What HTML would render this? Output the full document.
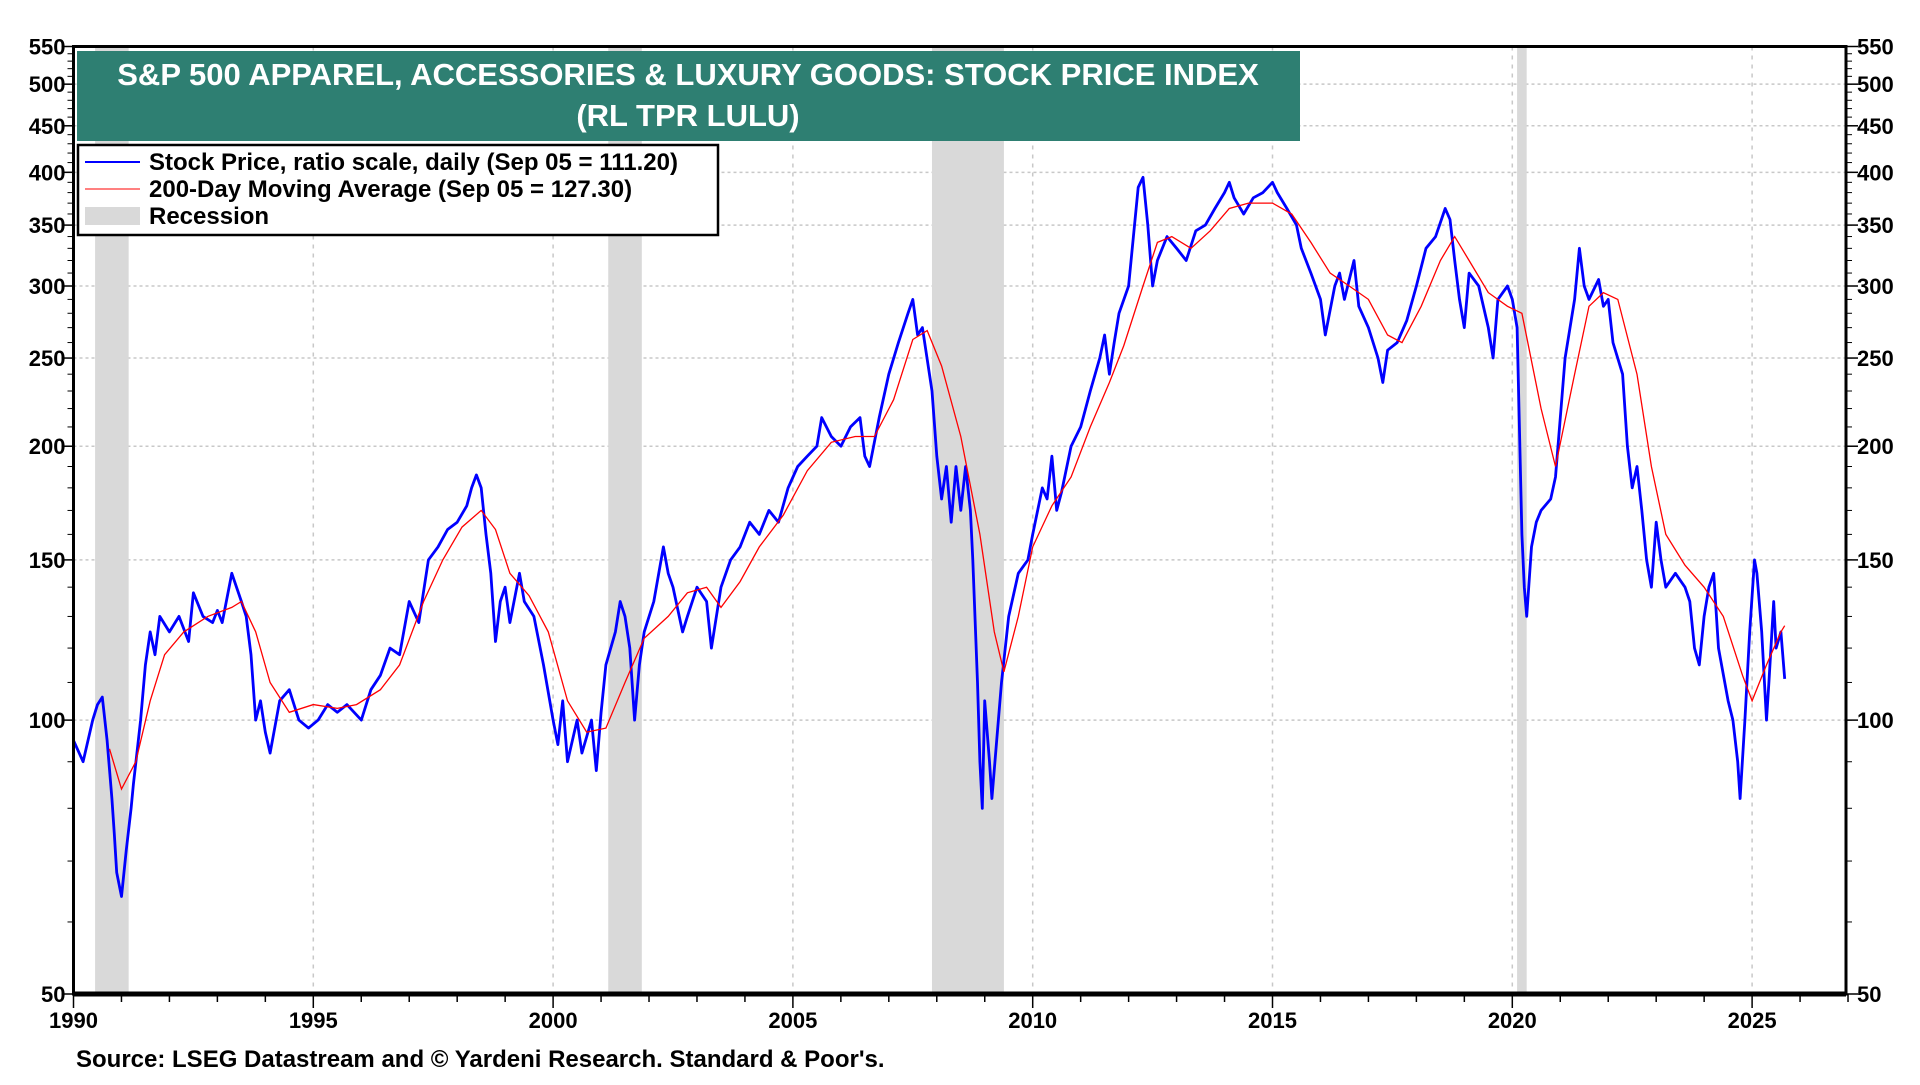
<!DOCTYPE html>
<html><head><meta charset="utf-8"><style>
body{margin:0;background:#fff;width:1920px;height:1080px;overflow:hidden;font-family:"Liberation Sans",sans-serif}
svg text{font-family:"Liberation Sans",sans-serif;font-weight:bold}
</style></head><body>
<svg id="chart" width="1920" height="1080" xmlns="http://www.w3.org/2000/svg">
<g id="grid"></g>
<g id="rec"></g>
<g id="series"></g>
<g id="axes"></g>
<rect x="77" y="51" width="1223" height="90" fill="#2e7f72"/>
<text x="688" y="85" fill="#fff" font-size="31" text-anchor="middle">S&amp;P 500 APPAREL, ACCESSORIES &amp; LUXURY GOODS: STOCK PRICE INDEX</text>
<text x="688" y="126" fill="#fff" font-size="31" text-anchor="middle">(RL TPR LULU)</text>
<g>
<rect x="78" y="145" width="640" height="90" fill="#fff" stroke="#000" stroke-width="2.5"/>
<line x1="85" y1="162" x2="140" y2="162" stroke="#0000ff" stroke-width="2"/>
<text x="149" y="170" font-size="24">Stock Price, ratio scale, daily (Sep 05 = 111.20)</text>
<line x1="85" y1="189" x2="140" y2="189" stroke="#ff0000" stroke-width="1"/>
<text x="149" y="197" font-size="24">200-Day Moving Average (Sep 05 = 127.30)</text>
<rect x="85" y="207" width="55" height="18" fill="#d9d9d9"/>
<text x="149" y="224" font-size="24">Recession</text>
</g>
<text x="76" y="1067" font-size="24">Source: LSEG Datastream and © Yardeni Research. Standard &amp; Poor's.</text>
</svg>
<script>
const stockYears=[1990.0,1990.2,1990.4,1990.5,1990.6,1990.7,1990.8,1990.85,1990.9,1991.0,1991.1,1991.2,1991.25,1991.4,1991.5,1991.6,1991.7,1991.8,1992.0,1992.2,1992.4,1992.5,1992.7,1992.9,1993.0,1993.1,1993.3,1993.5,1993.6,1993.7,1993.8,1993.9,1994.0,1994.1,1994.3,1994.5,1994.7,1994.9,1995.1,1995.3,1995.5,1995.7,1996.0,1996.2,1996.4,1996.6,1996.8,1997.0,1997.2,1997.4,1997.6,1997.8,1998.0,1998.2,1998.3,1998.4,1998.5,1998.6,1998.7,1998.8,1998.9,1999.0,1999.1,1999.3,1999.4,1999.6,1999.8,2000.0,2000.1,2000.2,2000.3,2000.5,2000.6,2000.8,2000.9,2001.0,2001.1,2001.3,2001.4,2001.5,2001.6,2001.7,2001.8,2001.9,2002.1,2002.3,2002.4,2002.5,2002.7,2002.8,2003.0,2003.2,2003.3,2003.5,2003.7,2003.9,2004.1,2004.3,2004.5,2004.7,2004.9,2005.1,2005.3,2005.5,2005.6,2005.8,2006.0,2006.2,2006.4,2006.5,2006.6,2006.8,2007.0,2007.2,2007.4,2007.5,2007.6,2007.7,2007.9,2008.0,2008.1,2008.2,2008.3,2008.4,2008.5,2008.6,2008.7,2008.75,2008.85,2008.9,2008.95,2009.0,2009.1,2009.15,2009.25,2009.35,2009.5,2009.7,2009.9,2010.0,2010.2,2010.3,2010.4,2010.5,2010.6,2010.8,2011.0,2011.2,2011.4,2011.5,2011.6,2011.7,2011.8,2012.0,2012.1,2012.2,2012.3,2012.4,2012.5,2012.6,2012.8,2013.0,2013.2,2013.4,2013.6,2013.8,2014.0,2014.1,2014.2,2014.4,2014.6,2014.8,2015.0,2015.1,2015.3,2015.5,2015.6,2015.8,2016.0,2016.1,2016.3,2016.4,2016.5,2016.7,2016.8,2017.0,2017.2,2017.3,2017.4,2017.6,2017.8,2018.0,2018.2,2018.4,2018.6,2018.7,2018.8,2018.9,2019.0,2019.1,2019.3,2019.5,2019.6,2019.7,2019.9,2020.0,2020.1,2020.2,2020.25,2020.3,2020.4,2020.5,2020.6,2020.8,2020.9,2021.0,2021.1,2021.3,2021.4,2021.5,2021.6,2021.8,2021.9,2022.0,2022.1,2022.3,2022.4,2022.5,2022.6,2022.7,2022.8,2022.9,2023.0,2023.1,2023.2,2023.4,2023.6,2023.7,2023.8,2023.9,2024.0,2024.1,2024.2,2024.3,2024.5,2024.6,2024.7,2024.75,2024.85,2024.95,2025.05,2025.1,2025.2,2025.3,2025.35,2025.45,2025.5,2025.6,2025.68];
const stockValues=[95,90,100,104,106,95,82,75,68,64,72,80,85,100,115,125,118,130,125,130,122,138,130,128,132,128,145,135,130,118,100,105,97,92,105,108,100,98,100,104,102,104,100,108,112,120,118,135,128,150,155,162,165,172,180,186,180,160,145,122,135,140,128,145,135,130,115,100,94,105,90,100,92,100,88,102,115,125,135,130,120,100,115,125,135,155,145,140,125,130,140,135,120,140,150,155,165,160,170,165,180,190,195,200,215,205,200,210,215,195,190,215,240,260,280,290,265,270,230,195,175,190,165,190,170,190,170,150,110,90,80,105,90,82,95,110,130,145,150,160,180,175,195,170,178,200,210,230,250,265,240,260,280,300,340,385,395,350,300,320,340,330,320,345,350,365,380,390,375,360,375,380,390,380,365,350,330,310,290,265,300,310,290,320,285,270,250,235,255,260,275,300,330,340,365,355,320,290,270,310,300,270,250,290,300,290,270,160,140,130,155,165,170,175,185,215,250,290,330,300,290,305,285,290,260,240,200,180,190,170,150,140,165,150,140,145,140,135,120,115,130,140,145,120,105,100,90,82,100,125,150,145,125,100,110,135,120,125,111];
const maYears=[1990.75,1991.0,1991.3,1991.6,1991.9,1992.3,1992.8,1993.3,1993.5,1993.8,1994.1,1994.5,1995.0,1995.5,1995.9,1996.4,1996.8,1997.3,1997.7,1998.1,1998.5,1998.8,1999.1,1999.5,1999.9,2000.3,2000.7,2001.1,2001.5,2001.9,2002.4,2002.8,2003.2,2003.5,2003.9,2004.3,2004.8,2005.3,2005.8,2006.3,2006.7,2007.1,2007.5,2007.8,2008.1,2008.5,2008.9,2009.2,2009.4,2009.7,2010.0,2010.4,2010.8,2011.2,2011.6,2011.9,2012.3,2012.6,2012.9,2013.3,2013.7,2014.1,2014.5,2015.0,2015.4,2015.8,2016.2,2016.6,2017.0,2017.4,2017.7,2018.1,2018.5,2018.8,2019.1,2019.5,2019.9,2020.2,2020.6,2020.9,2021.3,2021.6,2021.9,2022.2,2022.6,2022.9,2023.2,2023.6,2024.0,2024.4,2024.8,2025.0,2025.3,2025.6,2025.68];
const maValues=[93,84,90,105,118,125,130,133,135,125,110,102,104,103,104,108,115,135,150,163,170,162,145,137,125,105,97,98,110,123,130,138,140,133,142,155,168,188,202,205,205,225,262,268,245,205,160,125,113,130,155,172,185,210,235,258,300,335,340,330,345,365,370,370,360,335,310,300,290,265,260,285,320,340,320,295,285,280,220,190,240,285,295,290,240,190,160,148,140,130,112,105,115,125,127];
const recessions=[[1990.45,1991.15],[2001.15,2001.85],[2007.9,2009.4],[2020.1,2020.3]];
const yTicks=[50,100,150,200,250,300,350,400,450,500,550];
const xTicks=[1990,1995,2000,2005,2010,2015,2020,2025];

const NS="http://www.w3.org/2000/svg";
const L=73.5,R=1846,T=46.5,B=994;
const xs=y=>L+(y-1990)*47.96;
const ys=v=>B-Math.log(v/50)/Math.log(11)*(B-T);
function mk(tag,attrs,parent){const e=document.createElementNS(NS,tag);for(const k in attrs)e.setAttribute(k,attrs[k]);parent.appendChild(e);return e;}
const grid=document.getElementById('grid'),rec=document.getElementById('rec'),series=document.getElementById('series'),axes=document.getElementById('axes');
yTicks.forEach(v=>{if(v===50)return;
 const g=mk('line',{x1:L,x2:R,y1:ys(v),y2:ys(v),stroke:'#c8c8c8','stroke-width':1.5,'stroke-dasharray':'3,3'},grid);
 
 });
xTicks.forEach(t=>{if(t===1990)return;
 const g=mk('line',{x1:xs(t),x2:xs(t),y1:T,y2:B,stroke:'#c8c8c8','stroke-width':1.5,'stroke-dasharray':'4,5'},grid);
 
 });
recessions.forEach(r=>{
 const e=mk('rect',{x:xs(r[0]),y:T,width:xs(r[1])-xs(r[0]),height:B-T,fill:'#d9d9d9'},rec);
 
 });
function path(xa,va){return xa.map((x,i)=>(i?'L':'M')+xs(x).toFixed(1)+','+ys(va[i]).toFixed(1)).join('');}
const sp=mk('path',{d:path(stockYears,stockValues),fill:'none',stroke:'#0000ff','stroke-width':2.8,'stroke-linejoin':'round'},series);


const mp=mk('path',{d:path(maYears,maValues),fill:'none',stroke:'#ff0000','stroke-width':1.3},series);


const fr=mk('rect',{x:L,y:T,width:R-L,height:B-T,fill:'none',stroke:'#000','stroke-width':3},axes);


const bl=mk('line',{x1:L,x2:R,y1:B,y2:B,stroke:'#000','stroke-width':5},axes);


for(let v=50;v<=550;v+=10){[[L-6,L],[R,R+6]].forEach(p=>{mk('line',{x1:p[0],x2:p[1],y1:ys(v),y2:ys(v),stroke:'#000','stroke-width':1},axes);});}
yTicks.forEach(v=>{
 const a=mk('text',{x:L-8,y:ys(v)+8,'font-size':22,'text-anchor':'end'},axes);a.textContent=v;
 
 
 const b=mk('text',{x:R+11,y:ys(v)+8,'font-size':22},axes);b.textContent=v;
 
 
 [[L-12,L],[R,R+12]].forEach(p=>mk('line',{x1:p[0],x2:p[1],y1:ys(v),y2:ys(v),stroke:'#000','stroke-width':1.5},axes));});
for(let yr=1990;yr<=2027;yr++){mk('line',{x1:xs(yr),x2:xs(yr),y1:B,y2:B+(yr%5===0?14:8),stroke:'#000','stroke-width':1.5},axes);}
xTicks.forEach(t=>{const a=mk('text',{x:xs(t),y:1028,'font-size':22,'text-anchor':'middle'},axes);a.textContent=t;
 
 });
</script>
</body></html>
